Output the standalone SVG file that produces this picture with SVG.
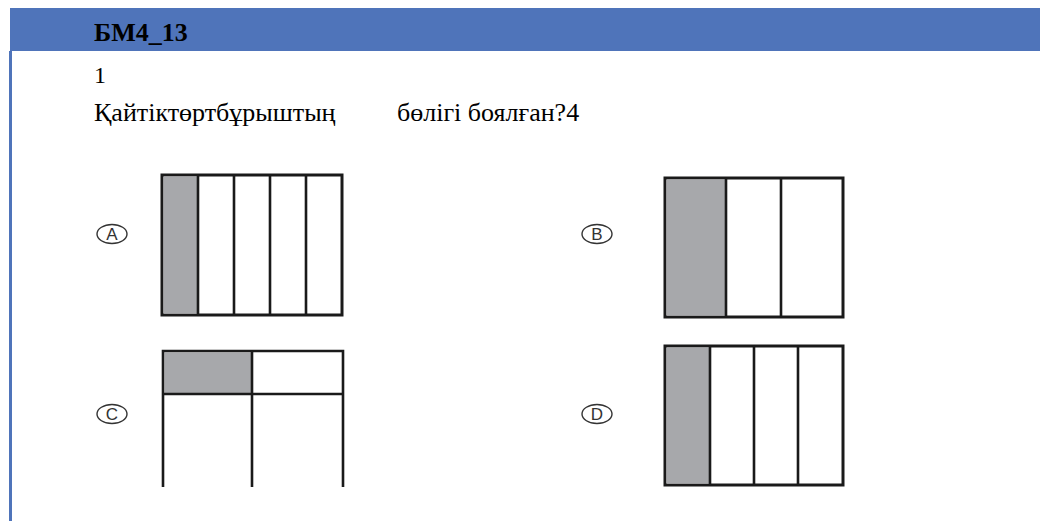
<svg xmlns="http://www.w3.org/2000/svg" width="1040" height="521" viewBox="0 0 1040 521">
<style>
.t{font-family:"Liberation Serif","Times New Roman",serif;fill:#000}
.box{fill:#fff;stroke:#1a1a1a;stroke-width:3}
.div{stroke:#1a1a1a;stroke-width:2.6;fill:none}
.sh{fill:#a7a8ab}
.lbl{fill:none;stroke:#333;stroke-width:1.4}
.lt{font-family:"Liberation Sans",Arial,sans-serif;font-size:17px;fill:#333;text-anchor:middle}
</style>
<rect width="1040" height="521" fill="#fff"/>
<rect x="10" y="8" width="1030" height="43" fill="#4f74ba"/>
<rect x="9" y="51" width="3" height="470" fill="#4f74ba"/>
<text class="t" x="94" y="41" font-size="26" font-weight="bold">БМ4_13</text>
<text class="t" x="94" y="83" font-size="24">1</text>
<text class="t" x="94" y="121" font-size="26">Қайтіктөртбұрыштың</text>
<text class="t" x="397" y="121" font-size="26">бөлігі боялған?4</text>

<g id="optA">
<ellipse class="lbl" cx="112" cy="234" rx="15" ry="9.5"/>
<text class="lt" x="112" y="240">A</text>
<rect class="box" x="162" y="175" width="180" height="140"/>
<rect class="sh" x="163.5" y="176.5" width="34.5" height="137"/>
<path class="div" d="M198 175V315M234 175V315M270 175V315M306 175V315"/>
</g>
<g id="optB">
<ellipse class="lbl" cx="597" cy="234" rx="15" ry="9.5"/>
<text class="lt" x="597" y="240">B</text>
<rect class="box" x="665" y="178" width="178" height="139"/>
<rect class="sh" x="666.5" y="179.5" width="59.5" height="136"/>
<path class="div" d="M726 178V317M781 178V317"/>
</g>
<g id="optC">
<ellipse class="lbl" cx="112" cy="414" rx="15" ry="9.5"/>
<text class="lt" x="112" y="420">C</text>
<rect fill="#fff" x="163" y="351" width="180" height="136"/>
<rect class="sh" x="164.5" y="352.5" width="87.5" height="41.5"/>
<path class="div" d="M163 487V351H343V487" stroke-width="3"/>
<path class="div" d="M163 394H343M252 351V487"/>
</g>
<g id="optD">
<ellipse class="lbl" cx="597" cy="414" rx="15" ry="9.5"/>
<text class="lt" x="597" y="420">D</text>
<rect class="box" x="665" y="346" width="178" height="139"/>
<rect class="sh" x="666.5" y="347.5" width="43.5" height="136"/>
<path class="div" d="M710 346V485M754 346V485M798 346V485"/>
</g>
<g id="connectors"/>
</svg>
